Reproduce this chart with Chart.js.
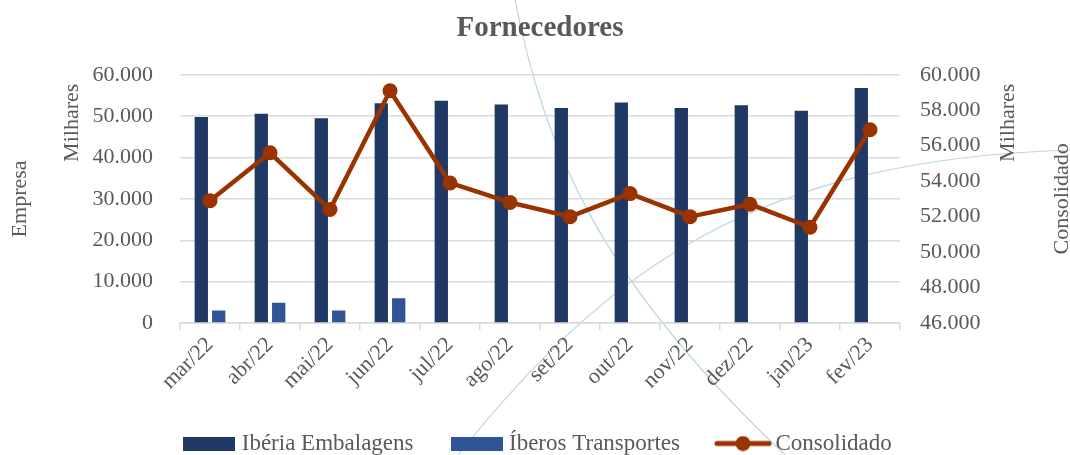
<!DOCTYPE html>
<html>
<head>
<meta charset="utf-8">
<script src="https://cdn.jsdelivr.net/npm/chart.js@4.4.1/dist/chart.umd.min.js"></script>
<style>
  html, body { margin: 0; padding: 0; background: #ffffff; }
  #wrap { width: 1070px; height: 455px; position: relative; }
</style>
</head>
<body>
<div id="wrap"><canvas id="c" width="1070" height="455"></canvas></div>
<script>
// ---- data (values in thousands) ----
const categories = ['mar/22','abr/22','mai/22','jun/22','jul/22','ago/22','set/22','out/22','nov/22','dez/22','jan/23','fev/23'];
const iberiaEmbalagens = [49800, 50600, 49500, 53100, 53700, 52800, 52000, 53300, 52000, 52650, 51300, 56800];
const iberosTransportes = [3000, 4900, 3000, 6000, null, null, null, null, null, null, null, null];
const consolidado = [52900, 55600, 52400, 59100, 53900, 52800, 52000, 53300, 52000, 52700, 51400, 56900];
const leftTicks = [0, 10000, 20000, 30000, 40000, 50000, 60000];
const leftTickLabels = ['0', '10.000', '20.000', '30.000', '40.000', '50.000', '60.000'];
const rightTicks = [46000, 48000, 50000, 52000, 54000, 56000, 58000, 60000];
const rightTickLabels = ['46.000', '48.000', '50.000', '52.000', '54.000', '56.000', '58.000', '60.000'];
const seriesNames = ['Ibéria Embalagens', 'Íberos Transportes', 'Consolidado'];

// ---- styles ----
const FONT = '"Liberation Serif", "Times New Roman", serif';
const TXT = '#595959';
const GRID = '#d9d9d9';
const C_IBERIA = '#203864';
const C_IBEROS = '#2f5597';
const C_CONS = '#993300';

function barSwatch(color) {
  const c = document.createElement('canvas');
  c.width = 52; c.height = 14;
  const x = c.getContext('2d');
  x.fillStyle = color; x.fillRect(0, 0, 52, 14);
  return c;
}
function lineSwatch(color) {
  const c = document.createElement('canvas');
  c.width = 58; c.height = 16;
  const x = c.getContext('2d');
  x.strokeStyle = color; x.lineWidth = 5; x.lineCap = 'round';
  x.beginPath(); x.moveTo(3, 8); x.lineTo(55, 8); x.stroke();
  x.fillStyle = color; x.beginPath(); x.arc(29, 8, 7.5, 0, Math.PI * 2); x.fill();
  return c;
}
const swatches = [barSwatch(C_IBERIA), barSwatch(C_IBEROS), lineSwatch(C_CONS)];

const decoPlugin = {
  id: 'deco',
  beforeDraw(chart) {
    const ctx = chart.ctx;
    ctx.save();
    ctx.strokeStyle = 'rgba(160,200,220,0.75)';
    ctx.lineWidth = 1.2;
    ctx.beginPath(); ctx.moveTo(515, 0); ctx.bezierCurveTo(545, 150, 600, 280, 785, 455); ctx.stroke();
    ctx.beginPath(); ctx.moveTo(458, 455); ctx.bezierCurveTo(610, 265, 760, 160, 1070, 150); ctx.stroke();
    ctx.restore();
  }
};

const axisTitlesPlugin = {
  id: 'axisTitles',
  afterDraw(chart) {
    const ctx = chart.ctx;
    const a = chart.chartArea;
    const midY = (a.top + a.bottom) / 2;
    function vtext(t, x, y) {
      ctx.save();
      ctx.translate(x, y);
      ctx.rotate(-Math.PI / 2);
      ctx.fillStyle = TXT;
      ctx.font = '22px ' + FONT;
      ctx.textAlign = 'center';
      ctx.textBaseline = 'middle';
      ctx.fillText(t, 0, 0);
      ctx.restore();
    }
    vtext('Empresa', a.left - 160, midY);
    vtext('Milhares', a.left - 108, a.top + 48);
    vtext('Milhares', a.right + 108, a.top + 48);
    vtext('Consolidado', a.right + 162, midY);
  }
};

new Chart(document.getElementById('c'), {
  data: {
    labels: categories,
    datasets: [
      { type: 'bar', label: seriesNames[0], data: iberiaEmbalagens, backgroundColor: C_IBERIA, yAxisID: 'y', order: 1,
        categoryPercentage: 0.58, barPercentage: 0.765 },
      { type: 'bar', label: seriesNames[1], data: iberosTransportes, backgroundColor: C_IBEROS, yAxisID: 'y', order: 1,
        categoryPercentage: 0.58, barPercentage: 0.765 },
      { type: 'line', label: seriesNames[2], data: consolidado, borderColor: C_CONS, backgroundColor: C_CONS,
        borderWidth: 4.5, pointRadius: 7.5, pointBorderWidth: 0, pointBackgroundColor: C_CONS,
        yAxisID: 'y1', order: 0, tension: 0, borderJoinStyle: 'round', borderCapStyle: 'round' }
    ]
  },
  options: {
    responsive: false,
    animation: false,
    devicePixelRatio: 1,
    layout: { padding: { left: 10, right: 0, top: 0, bottom: -10 } },
    plugins: {
      tooltip: { enabled: false },
      title: {
        display: true, text: 'Fornecedores', color: TXT,
        font: { family: FONT, size: 29, weight: 'bold' },
        padding: { top: 11, bottom: 29 }
      },
      legend: {
        position: 'bottom',
        labels: {
          color: TXT,
          font: { family: FONT, size: 23 },
          usePointStyle: true,
          pointStyleWidth: 42,
          boxHeight: 14,
          padding: 42,
          sort: (a, b) => a.datasetIndex - b.datasetIndex,
          generateLabels(chart) {
            const items = Chart.defaults.plugins.legend.labels.generateLabels(chart);
            items.forEach((it) => { it.pointStyle = swatches[it.datasetIndex]; });
            return items;
          }
        }
      }
    },
    scales: {
      x: {
        type: 'category',
        offset: true,
        grid: { offset: true, drawOnChartArea: false, drawTicks: true, tickLength: 7, color: GRID, lineWidth: 1.5 },
        border: { display: true, color: GRID, width: 1.5 },
        ticks: { color: TXT, font: { family: FONT, size: 22 }, minRotation: 45, maxRotation: 45, padding: 2, autoSkip: false },
        afterFit(scale) {
          const lg = scale.chart.legend ? scale.chart.legend.height : 74;
          scale.height = scale.chart.height + 10 - lg - 323;
        }
      },
      y: {
        position: 'left',
        min: 0, max: 60000,
        afterBuildTicks(scale) { scale.ticks = leftTicks.map(v => ({ value: v })); },
        grid: { color: GRID, lineWidth: 1.5, drawTicks: false },
        border: { display: false },
        ticks: { color: TXT, font: { family: FONT, size: 22 }, padding: 27,
                 callback: (v, i) => leftTickLabels[i] },
        afterFit(scale) { scale.width = 170; }
      },
      y1: {
        position: 'right',
        min: 46000, max: 60000,
        afterBuildTicks(scale) { scale.ticks = rightTicks.map(v => ({ value: v })); },
        grid: { drawOnChartArea: false, drawTicks: false },
        border: { display: false },
        ticks: { color: TXT, font: { family: FONT, size: 22 }, padding: 20,
                 callback: (v, i) => rightTickLabels[i] },
        afterFit(scale) { scale.width = 170; }
      }
    }
  },
  plugins: [decoPlugin, axisTitlesPlugin]
});
</script>
</body>
</html>
